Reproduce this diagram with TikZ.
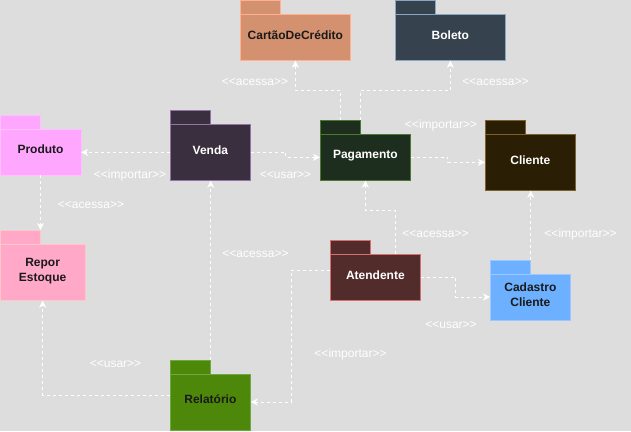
\documentclass[tikz,border=0pt]{standalone}
\usepackage{fontspec}
\setmainfont{Liberation Sans}
\usetikzlibrary{arrows.meta}
\usetikzlibrary{positioning}

\definecolor{bgcol}{HTML}{DDDDDD}
\definecolor{darktxt}{HTML}{1A1A1A}
\definecolor{cartaofill}{HTML}{D4916F}
\definecolor{cartaoline}{HTML}{FFB191}
\definecolor{boletofill}{HTML}{36434F}
\definecolor{boletoline}{HTML}{8AA6C1}
\definecolor{produtofill}{HTML}{FFA6FF}
\definecolor{produtoline}{HTML}{FFC0FF}
\definecolor{vendafill}{HTML}{3A2F3F}
\definecolor{vendaline}{HTML}{9673A6}
\definecolor{pagfill}{HTML}{1E2E1E}
\definecolor{pagline}{HTML}{4A7A30}
\definecolor{clientefill}{HTML}{2A1F04}
\definecolor{clienteline}{HTML}{80602A}
\definecolor{reporfill}{HTML}{FFA8C8}
\definecolor{reporline}{HTML}{FFC8C8}
\definecolor{relfill}{HTML}{4D880B}
\definecolor{relline}{HTML}{6DAA40}
\definecolor{atendfill}{HTML}{522C2B}
\definecolor{atendline}{HTML}{D67070}
\definecolor{cadfill}{HTML}{6CB0FF}
\definecolor{cadline}{HTML}{9CC8FF}

\tikzset{
  pkg/.style={draw, line width=1pt, outer sep=0pt, inner sep=0pt, anchor=north west,
    align=center, font=\fontsize{12}{14.5}\selectfont\bfseries,
    execute at end node={\rule[-5pt]{0pt}{5pt}}},
  pkgtab/.style={draw, line width=1pt, outer sep=0pt, inner sep=0pt,
    minimum width=40.7pt, minimum height=14pt},
  dep/.style={draw=white, line width=1pt, dash pattern=on 3pt off 3pt,
    -{Stealth[length=7pt,width=7pt,inset=2pt]}},
  lbl/.style={text=white, inner sep=0pt, font=\fontsize{12}{14}\selectfont}
}

\begin{document}
\begin{tikzpicture}[x=1pt,y=-1pt]
    \fill[bgcol] (0,0) rectangle (631,431);
    \useasboundingbox (0,0) rectangle (631,431);

    % Place nodes
    \node[pkg, fill=cartaofill, draw=cartaoline, text=darktxt, minimum width=110.7pt, minimum height=46.7pt] (cartao) at (240,14) {CartãoDeCrédito};
    \node[pkgtab, fill=cartaofill, draw=cartaoline, above right=0pt and 0pt of cartao.north west] (cartaotab) {};

    \node[pkg, fill=boletofill, draw=boletoline, text=white, minimum width=110.7pt, minimum height=46.7pt] (boleto) at (395,14) {Boleto};
    \node[pkgtab, fill=boletofill, draw=boletoline, above right=0pt and 0pt of boleto.north west] (boletotab) {};

    \node[pkg, fill=produtofill, draw=produtoline, text=darktxt, minimum width=81pt, minimum height=46pt] (produto) at (0,129) {Produto};
    \node[pkgtab, fill=produtofill, draw=produtoline, above right=0pt and 0pt of produto.north west] (produtotab) {};

    \node[pkg, fill=vendafill, draw=vendaline, text=white, minimum width=80.7pt, minimum height=56.7pt] (venda) at (170,124) {Venda};
    \node[pkgtab, fill=vendafill, draw=vendaline, above right=0pt and 0pt of venda.north west] (vendatab) {};

    \node[pkg, fill=pagfill, draw=pagline, text=white, minimum width=90.7pt, minimum height=46.7pt] (pagamento) at (320,134) {Pagamento};
    \node[pkgtab, fill=pagfill, draw=pagline, above right=0pt and 0pt of pagamento.north west] (pagtab) {};

    \node[pkg, fill=clientefill, draw=clienteline, text=white, minimum width=90.7pt, minimum height=56.7pt] (cliente) at (485,134) {Cliente};
    \node[pkgtab, fill=clientefill, draw=clienteline, above right=0pt and 0pt of cliente.north west] (clientetab) {};

    \node[pkg, fill=reporfill, draw=reporline, text=darktxt, minimum width=85.3pt, minimum height=56.7pt] (repor) at (0,244) {Repor\\Estoque};
    \node[pkgtab, fill=reporfill, draw=reporline, above right=0pt and 0pt of repor.north west] (reportab) {};

    \node[pkg, fill=relfill, draw=relline, text=darktxt, minimum width=80.7pt, minimum height=56pt] (relatorio) at (170,374) {Relatório};
    \node[pkgtab, fill=relfill, draw=relline, above right=0pt and 0pt of relatorio.north west] (reltab) {};

    \node[pkg, fill=atendfill, draw=atendline, text=white, minimum width=90.7pt, minimum height=46.7pt] (atendente) at (330,254) {Atendente};
    \node[pkgtab, fill=atendfill, draw=atendline, above right=0pt and 0pt of atendente.north west] (atendtab) {};

    \node[pkg, fill=cadfill, draw=cadline, text=darktxt, minimum width=80.7pt, minimum height=46pt] (cadastro) at (490,274) {Cadastro\\Cliente};
    \node[pkgtab, fill=cadfill, draw=cadline, above right=0pt and 0pt of cadastro.north west] (cadtab) {};

    % Dependencies
    \draw[dep] (pagtab.north) -- ++(0,-30) -| (cartao.south);
    \draw[dep] (pagtab.north east) -- ++(0,-30) -| (boleto.south);
    \draw[dep] (venda.west) -- (venda.west -| produto.east);
    \draw[dep] (venda.east) -- ++(35,0) |- (pagamento.west);
    \draw[dep] (pagamento.east) -- ++(37,0) |- (cliente.west);
    \draw[dep] (produto.south) -- (produto.south |- reportab.north);
    \draw[dep] (reltab.north east) -- (reltab.north east |- venda.south);
    \draw[dep] ([yshift=7pt]relatorio.west) -| (repor.south);
    \draw[dep] ([yshift=7pt]atendente.west) -- ++(-39,0) |- (relatorio.east);
    \draw[dep] ([xshift=20pt]atendente.north) -- ++(0,-44) -| (pagamento.south);
    \draw[dep] (atendente.east) -- ++(35,0) |- (cadastro.west);
    \draw[dep] (cadtab.north east) -- (cadtab.north east |- cliente.south);

    % Stereotypes
    \node[lbl] (l1) at (255,82.5) {<{}<acessa>{}>};
    \node[lbl] (l2) at (495.5,82.5) {<{}<acessa>{}>};
    \node[lbl] (l3) at (130,175) {<{}<importar>{}>};
    \node[lbl] (l4) at (285.5,175) {<{}<usar>{}>};
    \node[lbl] (l5) at (441,125) {<{}<importar>{}>};
    \node[lbl] (l6) at (91,205) {<{}<acessa>{}>};
    \node[lbl] (l7) at (255.5,254.5) {<{}<acessa>{}>};
    \node[lbl] (l8) at (115.5,364.5) {<{}<usar>{}>};
    \node[lbl] (l9) at (350.5,354.5) {<{}<importar>{}>};
    \node[lbl] (l10) at (435.5,234.5) {<{}<acessa>{}>};
    \node[lbl] (l11) at (451,325) {<{}<usar>{}>};
    \node[lbl] (l12) at (580.5,234.5) {<{}<importar>{}>};
\end{tikzpicture}
\end{document}
